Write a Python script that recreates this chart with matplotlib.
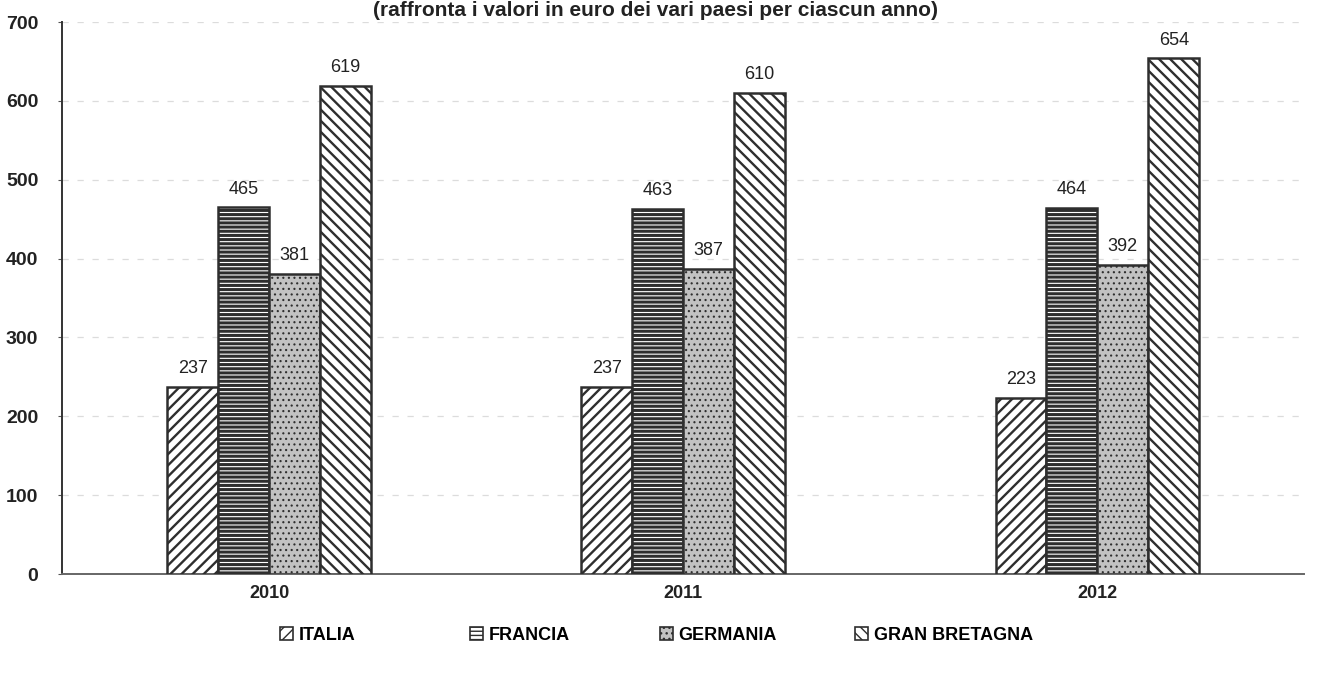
import matplotlib.pyplot as plt
from matplotlib.patches import Rectangle
import numpy as np

anni = ["2010", "2011", "2012"]
paesi = ["ITALIA", "FRANCIA", "GERMANIA", "GRAN BRETAGNA"]
italia = [237, 237, 223]
francia = [465, 463, 464]
germania = [381, 387, 392]
gran_bretagna = [619, 610, 654]
valori = [italia, francia, germania, gran_bretagna]

titolo = "(raffronta i valori in euro dei vari paesi per ciascun anno)"

# stile dei riempimenti (scansione in bianco e nero)
stili = [
    {"facecolor": "white", "hatch": "///", "hlw": 1.7},
    {"facecolor": "white", "hatch": "----", "hlw": 2.2},
    {"facecolor": "#c2c2c2", "hatch": "...", "hlw": 0.8},
    {"facecolor": "white", "hatch": "\\\\\\", "hlw": 1.7},
]

plt.rcParams["font.family"] = ["Liberation Sans Narrow", "Liberation Sans", "DejaVu Sans"]

fig = plt.figure(figsize=(13.19, 6.77), dpi=100)
ax = fig.add_axes([0.047, 0.152, 0.942, 0.8155])

x = np.arange(len(anni))
larghezza = 0.123
for i, (serie, st) in enumerate(zip(valori, stili)):
    pos = x + (i - 1.5) * larghezza
    barre = ax.bar(pos, serie, larghezza, facecolor=st["facecolor"], edgecolor="#2e2e2e",
                   hatch=st["hatch"], linewidth=1.8, zorder=3)
    for b in barre:
        if hasattr(b, "set_hatch_linewidth"):
            b.set_hatch_linewidth(st["hlw"])
    ax.bar_label(barre, padding=7, fontsize=13, color="#222222", zorder=4)

ax.set_xlim(-0.5, 2.5)
ax.set_ylim(0, 700)
ax.set_yticks(range(0, 701, 100))
ax.set_xticks(x)
ax.set_xticklabels(anni, fontsize=13, fontweight="bold", color="#222222")
ax.tick_params(axis="x", length=0, pad=8)
ax.tick_params(axis="y", length=3, pad=14, labelsize=14, labelcolor="#222222", color="#555555")
for t in ax.get_yticklabels():
    t.set_fontweight("bold")

ax.yaxis.grid(True, color="#dcdcdc", linestyle=(0, (5, 7)), linewidth=0.9, zorder=0)
for s in ["top", "right"]:
    ax.spines[s].set_visible(False)
ax.spines["left"].set_color("#333333")
ax.spines["left"].set_linewidth(1.4)
ax.spines["bottom"].set_color("#666666")
ax.spines["bottom"].set_linewidth(1.4)

fig.text(0.497, 0.999, titolo, ha="center", va="top", fontsize=15,
         fontweight="bold", color="#222222")

# legenda: voci a passo costante come nell'originale
pos_legenda = [0.212, 0.356, 0.500, 0.648]
for nome, st, px in zip(paesi, stili, pos_legenda):
    m = Rectangle((0, 0), 1, 1, facecolor=st["facecolor"], edgecolor="#2e2e2e",
                  hatch=st["hatch"], linewidth=1.2)
    fig.legend([m], [nome], loc="center left", bbox_to_anchor=(px, 0.062),
               frameon=False, handlelength=0.75, handleheight=0.75, handletextpad=0.3,
               borderaxespad=0, borderpad=0, prop={"size": 13, "weight": "bold"})

fig.savefig("out.png", dpi=100)
